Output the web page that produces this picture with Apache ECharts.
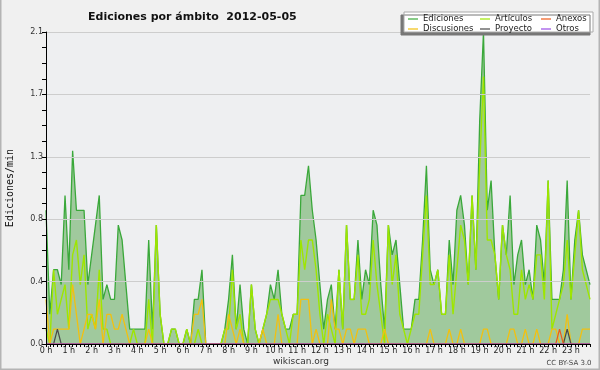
<!DOCTYPE html>
<html>
<head>
<meta charset="utf-8">
<script src="https://cdn.jsdelivr.net/npm/echarts@6/dist/echarts.min.js"></script>
<style>
html,body{margin:0;padding:0;background:#f0f0f0;}
#chart{width:600px;height:370px;}
</style>
</head>
<body>
<div id="chart"></div>
<script>
// Hour tick labels
const hours = ["0 h","1 h","2 h","3 h","4 h","5 h","6 h","7 h","8 h","9 h","10 h","11 h",
  "12 h","13 h","14 h","15 h","16 h","17 h","18 h","19 h","20 h","21 h","22 h","23 h"];
const minutes = ["00","10","20","30","40","50"];

// Edits per minute, 10-minute slots (144 per day)
const ediciones = [
  0.9,0.2,0.5,0.5,0.4,1.0, 0.5,1.3,0.9,0.9,0.9,0.4, 0.6,0.8,1.0,0.3,0.4,0.3,
  0.3,0.8,0.7,0.4,0.1,0.1, 0.1,0.1,0.1,0.7,0.1,0.8, 0.2,0.0,0.0,0.1,0.1,0.0,
  0.0,0.1,0.0,0.3,0.3,0.5, 0.0,0.0,0.0,0.0,0.0,0.1, 0.3,0.6,0.1,0.4,0.1,0.0,
  0.4,0.1,0.0,0.1,0.2,0.4, 0.3,0.5,0.2,0.1,0.1,0.2, 0.2,1.0,1.0,1.2,0.9,0.7,
  0.4,0.1,0.3,0.4,0.1,0.5, 0.1,0.8,0.3,0.3,0.7,0.3, 0.5,0.4,0.9,0.8,0.4,0.1,
  0.8,0.6,0.7,0.4,0.1,0.1, 0.1,0.3,0.3,0.7,1.2,0.5, 0.4,0.5,0.2,0.2,0.7,0.4,
  0.9,1.0,0.8,0.4,1.0,0.5, 1.5,2.1,0.9,1.1,0.6,0.3, 0.8,0.6,1.0,0.4,0.6,0.7,
  0.4,0.5,0.3,0.8,0.7,0.4, 1.1,0.3,0.3,0.3,0.5,1.1, 0.3,0.7,0.9,0.6,0.5,0.4
];
const articulos = [
  0.1,0.0,0.5,0.2,0.3,0.4, 0.1,0.6,0.7,0.4,0.6,0.1, 0.2,0.1,0.5,0.1,0.1,0.0,
  0.0,0.0,0.0,0.0,0.0,0.1, 0.0,0.0,0.0,0.3,0.0,0.8, 0.2,0.0,0.0,0.1,0.1,0.0,
  0.0,0.1,0.0,0.0,0.1,0.0, 0.0,0.0,0.0,0.0,0.0,0.1, 0.1,0.5,0.1,0.2,0.0,0.0,
  0.4,0.1,0.0,0.1,0.2,0.3, 0.3,0.3,0.2,0.1,0.0,0.2, 0.2,0.7,0.5,0.7,0.7,0.5,
  0.2,0.0,0.2,0.1,0.0,0.5, 0.1,0.8,0.3,0.3,0.6,0.2, 0.2,0.3,0.7,0.4,0.2,0.0,
  0.8,0.4,0.6,0.2,0.1,0.0, 0.1,0.2,0.2,0.6,1.0,0.4, 0.4,0.5,0.2,0.2,0.6,0.2,
  0.5,0.8,0.7,0.4,1.0,0.5, 1.2,1.8,0.7,0.7,0.6,0.3, 0.8,0.6,0.5,0.2,0.2,0.5,
  0.3,0.4,0.3,0.6,0.6,0.3, 1.1,0.1,0.2,0.3,0.4,0.7, 0.3,0.6,0.9,0.5,0.4,0.3
];
const discusiones = [
  0.3,0.0,0.1,0.1,0.1,0.1, 0.1,0.4,0.2,0.0,0.1,0.2, 0.2,0.1,0.3,0.0,0.2,0.2,
  0.1,0.1,0.2,0.1,0.0,0.0, 0.0,0.0,0.0,0.1,0.0,0.0, 0.0,0.0,0.0,0.0,0.0,0.0,
  0.0,0.0,0.0,0.2,0.2,0.3, 0.0,0.0,0.0,0.0,0.0,0.0, 0.2,0.1,0.0,0.1,0.0,0.0,
  0.0,0.0,0.0,0.1,0.0,0.0, 0.0,0.2,0.0,0.0,0.0,0.0, 0.0,0.3,0.3,0.3,0.0,0.1,
  0.0,0.0,0.0,0.3,0.1,0.1, 0.0,0.1,0.1,0.0,0.1,0.1, 0.1,0.0,0.0,0.0,0.0,0.1,
  0.0,0.0,0.0,0.0,0.0,0.0, 0.0,0.0,0.0,0.0,0.0,0.1, 0.0,0.0,0.0,0.0,0.1,0.0,
  0.0,0.1,0.0,0.0,0.0,0.0, 0.0,0.1,0.1,0.0,0.0,0.0, 0.0,0.0,0.1,0.1,0.0,0.0,
  0.1,0.0,0.0,0.1,0.0,0.0, 0.0,0.1,0.1,0.0,0.0,0.2, 0.0,0.0,0.0,0.1,0.1,0.1
];
const proyecto = [
  0,0,0,0.1,0,0, 0,0,0,0,0,0, 0,0,0,0,0,0, 0,0,0,0,0,0, 0,0,0,0,0,0, 0,0,0,0,0,0,
  0,0,0,0,0,0, 0,0,0,0,0,0, 0,0,0,0,0,0, 0,0,0,0,0,0, 0,0,0,0,0,0, 0,0,0,0,0,0,
  0,0,0,0,0,0, 0,0,0,0,0,0, 0,0,0,0,0,0, 0,0,0,0,0,0, 0,0,0,0,0,0, 0,0,0,0,0,0,
  0,0,0,0,0,0, 0,0,0,0,0,0, 0,0,0,0,0,0, 0,0,0,0,0,0, 0,0,0,0,0,0.1, 0,0,0,0,0,0
];
const anexos = [
  0,0,0,0,0,0, 0,0,0,0,0,0, 0,0,0,0,0,0, 0,0,0,0,0,0, 0,0,0,0,0,0, 0,0,0,0,0,0,
  0,0,0,0,0,0, 0,0,0,0,0,0, 0,0,0,0,0,0, 0,0,0,0,0,0, 0,0,0,0,0,0, 0,0,0,0,0,0,
  0,0,0,0,0,0, 0,0,0,0,0,0, 0,0,0,0,0,0, 0,0,0,0,0,0, 0,0,0,0,0,0, 0,0,0,0,0,0,
  0,0,0,0,0,0, 0,0,0,0,0,0, 0,0,0,0,0,0, 0,0,0,0,0,0, 0,0,0,0.1,0,0, 0,0,0,0,0,0
];
const otros = [
  0,0,0,0,0,0, 0,0,0,0,0,0, 0,0,0,0,0,0, 0,0,0,0,0,0, 0,0,0,0,0,0, 0,0,0,0,0,0,
  0,0,0,0,0,0, 0,0,0,0,0,0, 0,0,0,0,0,0, 0,0,0,0,0,0, 0,0,0,0,0,0, 0,0,0,0,0,0,
  0,0,0,0,0,0, 0,0,0,0,0,0, 0,0,0,0,0,0, 0,0,0,0,0,0, 0,0,0,0,0,0, 0,0,0,0,0,0,
  0,0,0,0,0,0, 0,0,0,0,0,0, 0,0,0,0,0,0, 0,0,0,0,0,0, 0,0,0,0,0,0, 0,0,0,0,0,0
];

const slots = [];
hours.forEach(h => minutes.forEach(m => slots.push(h.replace(' h','') + ':' + m)));

const FONT = 'DejaVu Sans';
const chart = echarts.init(document.getElementById('chart'), null, {renderer:'canvas'});

function line(name, data, color, width, extra) {
  return Object.assign({
    name, type:'line', data, symbol:'none', color,
    lineStyle:{color, width}, silent:true, animation:false
  }, extra || {});
}

const legendCommon = {
  orient:'vertical', top:14, itemGap:0, itemWidth:10, itemHeight:1.2, icon:'rect',
  textStyle:{fontFamily:FONT, fontSize:8.5, color:'#222', lineHeight:10, padding:0},
  selectedMode:false, padding:0, z:20
};

chart.setOption({
  backgroundColor:'#f0f0f0',
  animation:false,
  title:{
    text:'Ediciones por ámbito  2012-05-05', left:83, top:7,
    textStyle:{fontFamily:FONT, fontSize:11, fontWeight:'bold', color:'#111'}
  },
  legend:[
    Object.assign({}, legendCommon, {left:408, data:['Ediciones','Discusiones']}),
    Object.assign({}, legendCommon, {left:480, data:['Artículos','Proyecto']}),
    Object.assign({}, legendCommon, {left:541, data:['Anexos','Otros']})
  ],
  grid:{left:46, right:10, top:32, bottom:26, show:true, backgroundColor:'#eeeff1', borderWidth:0,
    containLabel:false, outerBoundsMode:'none'},
  xAxis:{
    type:'category', data:slots, boundaryGap:false, z:10,
    axisLine:{lineStyle:{color:'#000', width:1}},
    axisTick:{show:true, interval:0, length:3, lineStyle:{color:'#000'}},
    axisLabel:{interval:5, margin:3, fontFamily:FONT, fontSize:8, color:'#222',
      formatter:(v, i) => (i % 6 === 0 ? hours[i/6] : '')},
    splitLine:{show:false}
  },
  yAxis:{
    type:'value', min:0, max:2.1, interval:0.42, z:10,
    name:'Ediciones/min', nameLocation:'middle', nameRotate:90, nameGap:31,
    nameTextStyle:{fontFamily:'DejaVu Sans Mono', fontSize:10, color:'#111'},
    axisLine:{show:true, lineStyle:{color:'#000', width:1}},
    axisTick:{show:true, length:4, lineStyle:{color:'#000'}},
    minorTick:{show:true, splitNumber:4, length:4, lineStyle:{color:'#000'}},
    axisLabel:{margin:3, fontFamily:FONT, fontSize:8, color:'#333',
      formatter:v => v.toFixed(1)},
    splitLine:{show:true, lineStyle:{color:'#cdcdcd', width:1}}
  },
  series:[
    line('Ediciones', ediciones, '#3aa83a', 1.3, {areaStyle:{color:'#a0c99d', opacity:1}}),
    line('Artículos', articulos, '#9ee600', 1.4),
    line('Discusiones', discusiones, '#f2c010', 1.3),
    line('Proyecto', proyecto, '#4a4a4a', 1.2),
    line('Anexos', anexos, '#ee5a1a', 1.2),
    line('Otros', otros, '#9a4de6', 1.2)
  ],
  graphic:[
    {type:'rect', z:15, shape:{x:404, y:12, width:189, height:20},
      style:{fill:'#ffffff', stroke:'#aaaaaa', lineWidth:1,
        shadowColor:'#777777', shadowOffsetX:-3, shadowOffsetY:3, shadowBlur:0}},
    {type:'text', z:15, style:{text:'wikiscan.org', x:301, y:362, align:'center', verticalAlign:'middle',
      font:'9px "DejaVu Sans"', fill:'#333'}},
    {type:'text', z:15, style:{text:'CC BY-SA 3.0', x:569, y:363, align:'center', verticalAlign:'middle',
      font:'7px "DejaVu Sans"', fill:'#444'}},
    {type:'polyline', z:15, shape:{points:[[0.75,0],[0.75,369.25],[599.25,369.25],[599.25,0]]},
      style:{stroke:'#b4b4b4', lineWidth:1.5, fill:null}}
  ]
});
</script>
</body>
</html>
